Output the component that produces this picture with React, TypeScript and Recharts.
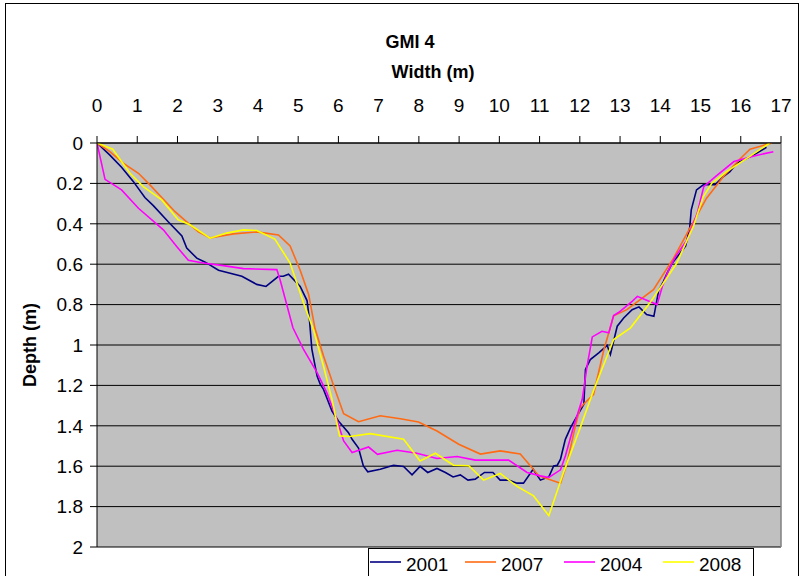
import React from "react";
import { LineChart, Line, XAxis, YAxis, CartesianGrid, ReferenceLine } from "recharts";

const xTicks = [0, 1, 2, 3, 4, 5, 6, 7, 8, 9, 10, 11, 12, 13, 14, 15, 16, 17];
const yTicks = [0, 0.2, 0.4, 0.6, 0.8, 1, 1.2, 1.4, 1.6, 1.8, 2];

const x2001 = [0, 0.32, 0.61, 0.9, 1.19, 1.4, 1.77, 2.11, 2.23, 2.48, 2.69, 3.02, 3.6, 3.97, 4.2, 4.51, 4.63, 4.76, 5.05, 5.22, 5.28, 5.34, 5.47, 5.55, 5.63, 5.84, 6.0, 6.25, 6.34, 6.5, 6.62, 6.73, 7.04, 7.37, 7.62, 7.83, 8.03, 8.22, 8.45, 8.66, 8.85, 9.03, 9.22, 9.4, 9.63, 9.84, 10.02, 10.23, 10.44, 10.6, 10.84, 11.02, 11.23, 11.35, 11.44, 11.52, 11.56, 11.64, 11.77, 11.93, 12.1, 12.14, 12.26, 12.47, 12.68, 12.76, 12.93, 13.09, 13.3, 13.47, 13.66, 13.84, 13.96, 14.08, 14.17, 14.3, 14.46, 14.63, 14.73, 14.77, 14.9, 15.07, 15.36, 15.57, 15.73, 15.9, 16.15, 16.39, 16.64];
const y2001 = [0, 0.06, 0.12, 0.19, 0.27, 0.31, 0.39, 0.46, 0.52, 0.57, 0.59, 0.63, 0.66, 0.7, 0.71, 0.66, 0.66, 0.65, 0.71, 0.78, 0.875, 1.02, 1.154, 1.195, 1.22, 1.327, 1.376, 1.434, 1.467, 1.51, 1.599, 1.628, 1.615, 1.595, 1.601, 1.643, 1.601, 1.631, 1.611, 1.631, 1.653, 1.643, 1.669, 1.664, 1.631, 1.631, 1.669, 1.669, 1.684, 1.684, 1.615, 1.669, 1.653, 1.599, 1.595, 1.565, 1.532, 1.467, 1.409, 1.352, 1.294, 1.121, 1.072, 1.039, 1.002, 1.047, 0.907, 0.866, 0.825, 0.811, 0.849, 0.858, 0.73, 0.685, 0.644, 0.594, 0.553, 0.509, 0.421, 0.331, 0.232, 0.207, 0.207, 0.166, 0.142, 0.1, 0.076, 0.051, 0.021];

const x2007 = [0, 0.32, 0.65, 1.03, 1.28, 1.61, 1.94, 2.23, 2.52, 2.81, 3.39, 3.97, 4.51, 4.8, 5.05, 5.26, 5.42, 5.63, 5.88, 6.13, 6.5, 7.04, 7.54, 7.99, 8.45, 8.99, 9.53, 10.02, 10.52, 10.77, 10.98, 11.52, 11.68, 11.89, 12.01, 12.26, 12.34, 12.59, 12.84, 13.17, 13.83, 14.33, 14.74, 15.15, 15.57, 15.98, 16.23, 16.77];
const y2007 = [0, 0.043, 0.1, 0.15, 0.2, 0.27, 0.34, 0.39, 0.44, 0.47, 0.45, 0.44, 0.455, 0.51, 0.63, 0.75, 0.92, 1.055, 1.2, 1.34, 1.38, 1.35, 1.365, 1.381, 1.426, 1.491, 1.54, 1.524, 1.54, 1.598, 1.648, 1.684, 1.586, 1.4, 1.31, 1.26, 1.245, 1.03, 0.855, 0.825, 0.726, 0.57, 0.42, 0.273, 0.166, 0.079, 0.031, 0];

const x2004 = [0, 0.2, 0.61, 1.03, 1.65, 1.98, 2.27, 2.64, 3.14, 3.64, 4.47, 4.55, 4.87, 5.13, 5.47, 5.71, 5.96, 6.13, 6.34, 6.75, 6.97, 7.46, 7.95, 8.45, 8.95, 9.4, 10.23, 10.69, 11.02, 11.23, 11.52, 11.64, 11.85, 12.06, 12.18, 12.31, 12.55, 12.72, 12.84, 12.97, 13.3, 13.43, 13.92, 14.05, 14.21, 14.38, 14.67, 14.92, 15.08, 15.37, 15.83, 16.33, 16.81];
const y2004 = [0, 0.18, 0.232, 0.323, 0.43, 0.512, 0.581, 0.594, 0.607, 0.622, 0.627, 0.677, 0.915, 1.02, 1.137, 1.236, 1.368, 1.475, 1.532, 1.505, 1.541, 1.521, 1.536, 1.562, 1.552, 1.57, 1.57, 1.631, 1.648, 1.656, 1.618, 1.549, 1.401, 1.269, 1.105, 0.96, 0.932, 0.94, 0.854, 0.838, 0.784, 0.759, 0.8, 0.71, 0.627, 0.561, 0.479, 0.347, 0.216, 0.166, 0.092, 0.064, 0.043];

const x2008 = [0, 0.39, 0.61, 0.82, 1.15, 1.61, 2.02, 2.31, 2.81, 3.22, 3.64, 3.97, 4.42, 4.8, 5.13, 5.38, 5.63, 5.84, 6.03, 6.29, 6.79, 7.62, 8.03, 8.41, 8.86, 9.24, 9.61, 10.02, 10.44, 10.85, 11.23, 11.6, 12.01, 12.35, 12.84, 13.26, 13.71, 14.08, 14.41, 14.82, 15.07, 15.28, 15.65, 16.15, 16.72];
const y2008 = [0, 0.031, 0.092, 0.15, 0.216, 0.282, 0.38, 0.405, 0.471, 0.446, 0.43, 0.433, 0.476, 0.594, 0.79, 0.924, 1.105, 1.269, 1.45, 1.453, 1.439, 1.467, 1.574, 1.536, 1.595, 1.598, 1.669, 1.636, 1.7, 1.747, 1.845, 1.628, 1.409, 1.22, 0.973, 0.915, 0.8, 0.693, 0.594, 0.413, 0.265, 0.199, 0.142, 0.076, 0];

const seriesNames = ["2001", "2007", "2004", "2008"];
const seriesColors = ["#000080", "#FF6A13", "#FF00FF", "#FFFF00"];

const zip = (xs: number[], ys: number[]) => xs.map((x, i) => ({ x, y: ys[i] }));
const seriesData = [zip(x2001, y2001), zip(x2007, y2007), zip(x2004, y2004), zip(x2008, y2008)];

const FONT = "'Liberation Sans', Arial, sans-serif";
const legendLineX = [370, 465, 564, 663];

export default function App() {
  return (
    <div style={{ position: "absolute", left: 0, top: 0, width: 801, height: 576, overflow: "hidden", background: "#fff", fontFamily: FONT }}>
      <LineChart width={801} height={576} margin={{ top: 113, right: 20, bottom: 29, left: 37 }}>
        <CartesianGrid vertical={false} fill="#C0C0C0" fillOpacity={1} stroke="#000" strokeWidth={1} />
        <XAxis
          type="number"
          dataKey="x"
          orientation="top"
          domain={[0, 17]}
          ticks={xTicks}
          interval={0}
          height={30}
          tickSize={7}
          tickMargin={24}
          axisLine={{ stroke: "#000" }}
          tickLine={{ stroke: "#000" }}
          tick={{ fill: "#000", fontSize: 19, fontFamily: FONT }}
          allowDataOverflow
        />
        <YAxis
          type="number"
          domain={[0, 2]}
          reversed
          ticks={yTicks}
          interval={0}
          width={60}
          tickSize={7}
          tickMargin={7}
          axisLine={{ stroke: "#000" }}
          tickLine={{ stroke: "#000" }}
          tick={{ fill: "#000", fontSize: 19, fontFamily: FONT }}
          tickFormatter={(v: number) => String(v)}
          allowDataOverflow
        />
        <ReferenceLine x={17} stroke="#808080" strokeWidth={1.5} />
        {seriesData.map((d, i) => (
          <Line
            key={seriesNames[i]}
            data={d}
            dataKey="y"
            name={seriesNames[i]}
            type="linear"
            stroke={seriesColors[i]}
            strokeWidth={1.6}
            dot={false}
            activeDot={false}
            isAnimationActive={false}
          />
        ))}
      </LineChart>
      <svg width={801} height={576} style={{ position: "absolute", left: 0, top: 0, pointerEvents: "none" }}>
        <rect x={5.5} y={3.5} width={793} height={600} fill="none" stroke="#000" strokeWidth={1} />
        <text x={410} y={48} textAnchor="middle" fontSize={18} fontWeight="bold" fontFamily={FONT} fill="#000">GMI 4</text>
        <text x={433} y={78} textAnchor="middle" fontSize={18} fontWeight="bold" fontFamily={FONT} fill="#000">Width (m)</text>
        <text transform="translate(36,345) rotate(-90)" textAnchor="middle" fontSize={18} fontWeight="bold" fontFamily={FONT} fill="#000">Depth (m)</text>
        <rect x={368.5} y={548.5} width={385} height={40} fill="#fff" stroke="#000" strokeWidth={1} />
        {seriesNames.map((n, i) => (
          <g key={n}>
            <line x1={legendLineX[i]} x2={legendLineX[i] + 31} y1={562} y2={562} stroke={seriesColors[i]} strokeWidth={1.6} />
            <text x={legendLineX[i] + 36} y={571} fontSize={19} fontFamily={FONT} fill="#000">{n}</text>
          </g>
        ))}
      </svg>
    </div>
  );
}
